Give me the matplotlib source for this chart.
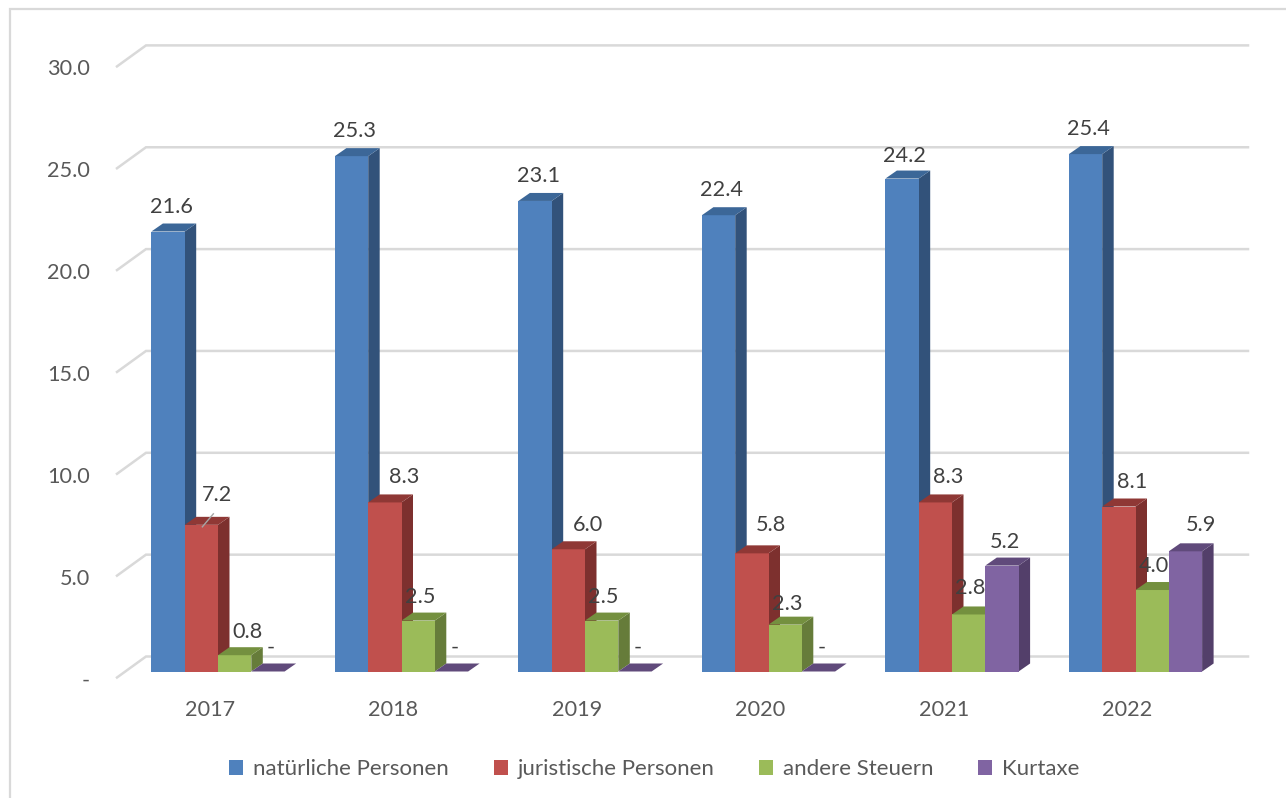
import matplotlib
matplotlib.use('Agg')
import matplotlib.pyplot as plt
from matplotlib.patches import Patch, Polygon, Rectangle

plt.rcParams['font.family'] = ['Lato', 'DejaVu Sans']

years = ['2017', '2018', '2019', '2020', '2021', '2022']
names = ['natürliche Personen', 'juristische Personen', 'andere Steuern', 'Kurtaxe']
natuerlich = [21.6, 25.3, 23.1, 22.4, 24.2, 25.4]
juristisch = [7.2, 8.3, 6.0, 5.8, 8.3, 8.1]
andere = [0.8, 2.5, 2.5, 2.3, 2.8, 4.0]
kurtaxe = [0, 0, 0, 0, 5.2, 5.9]
y_ticks = [0, 5, 10, 15, 20, 25, 30]

series = [natuerlich, juristisch, andere, kurtaxe]
front = ['#4F81BD', '#C0504D', '#9BBB59', '#8064A2']
side = ['#32527A', '#7D302E', '#667C3A', '#533F6A']
top = ['#3C6798', '#8F3835', '#74903F', '#604A7B']

# pixel layout of the picture
W, H = 1286, 798
X0, STEP = 218.0, 183.5    # centre of first group, distance between groups
Y0, PX = 671.5, 20.37      # bar floor, pixels per unit
BAR = 33.3
DX, DY = 11.5, 8.0         # bar depth
FS = 15.6

# label offsets from the middle of the bar top, in pixels
default_off = [(3, -25), (19, -25), (2, -24), (3, -24)]
special_off = {(1, 0): (16, -30), (2, 0): (13, -23), (2, 3): (2, -21), (2, 4): (2, -26),
               (1, 2): (20, -24), (1, 3): (19, -28), (1, 4): (13, -25), (1, 5): (13, -25),
               (3, 5): (16, -26), (0, 4): (2, -23)}


def px_x(p):
    return (p - X0) / STEP


def px_w(p):
    return p / STEP


def px_h(p):
    return p / PX


fig = plt.figure(figsize=(W / 100, H / 100), dpi=100)
ax = fig.add_axes([0, 0, 1, 1])
ax.set_xlim(px_x(0), px_x(W))
ax.set_ylim((Y0 - H) / PX, Y0 / PX)
ax.axis('off')

# outer frame, only its left and top side are inside the picture
ax.add_patch(Rectangle((10 / W, -0.05), 1.1, 1.05 - 9 / H, transform=ax.transAxes,
                       fill=False, ec='#D9D9D9', lw=1.6, zorder=0))

# gridlines on the back wall with the short stub to the front
for t in y_ticks:
    back = t + px_h(15.0)
    low = t - px_h(6.0)
    ax.plot([px_x(117), px_x(146), px_x(1248)], [low, back, back], color='#D9D9D9', lw=1.8,
            solid_joinstyle='miter', zorder=1)
    txt = '-' if t == 0 else f'{t:.1f}'
    ax.text(px_x(90), low - px_h(3), txt, ha='right', va='center', color='#595959', fontsize=FS, zorder=5)

# bars, left to right so that each one covers the side of the one before
for i, year in enumerate(years):
    for s, values in enumerate(series):
        v = values[i]
        x1 = i + px_w(BAR * (s - 2))
        x2 = x1 + px_w(BAR)
        dx, dy = px_w(DX), px_h(DY)
        if v > 0:
            ax.add_patch(Polygon([(x2, 0), (x2 + dx, dy), (x2 + dx, v + dy), (x2, v)], fc=side[s], ec='none', zorder=2))
            ax.bar(x1, v, width=px_w(BAR), align='edge', color=front[s], zorder=2)
        ax.add_patch(Polygon([(x1, v), (x1 + dx, v + dy), (x2 + dx, v + dy), (x2, v)], fc=top[s], ec='none', zorder=2))

        off = special_off.get((s, i), default_off[s])
        lx = (x1 + x2) / 2 + px_w(off[0])
        ly = v - px_h(off[1])
        ax.text(lx, ly, '-' if v == 0 else f'{v:.1f}', ha='center', va='center', color='#404040',
                fontsize=FS, zorder=6)
        if (s, i) == (1, 0):
            # leader line of the moved label
            ax.plot([lx - px_w(15), lx - px_w(4)], [v - px_h(2), v + px_h(11)], color='#A6A6A6', lw=1, zorder=5)

    ax.text(i - px_w(8), -px_h(39), year, ha='center', va='center', color='#595959', fontsize=FS, zorder=5)

handles = [Patch(fc=c, ec='none') for c in front]
ax.legend(handles, names, loc='center', bbox_to_anchor=(654.5 / W, 1 - 769 / H), ncol=4, frameon=False,
          fontsize=16, labelcolor='#595959', handlelength=0.64, handleheight=0.64,
          handletextpad=0.45, columnspacing=2.0, borderpad=0)

fig.savefig('out.png', dpi=100, facecolor='white')
